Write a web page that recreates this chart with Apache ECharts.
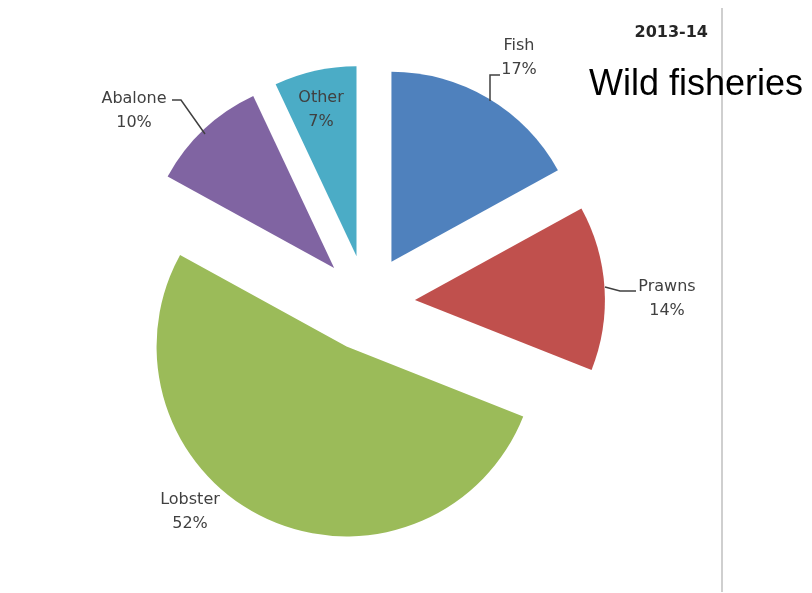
<!DOCTYPE html>
<html>
<head>
<meta charset="utf-8">
<title>Wild fisheries 2013-14</title>
<script src="https://cdn.jsdelivr.net/npm/echarts@6/dist/echarts.min.js"></script>
<style>
  html, body { margin: 0; padding: 0; background: #ffffff; }
  #chart { width: 812px; height: 593px; }
</style>
</head>
<body>
<div id="chart"></div>
<script>
// Share of wild-catch value by species group, 2013-14
const categories = ['Fish', 'Prawns', 'Lobster', 'Abalone', 'Other'];
const shares = [17, 14, 52, 10, 7];
const sliceColors = ['#4F81BD', '#C0504D', '#9BBB59', '#8064A2', '#4BACC6'];

// Where each slice's caption sits, and its leader path (null = no leader)
const labelSpots = [
  { x: 519, y: 58, line: [[490, 101], [490, 75], [500, 75]] },
  { x: 667, y: 299, line: [[605, 287], [620, 291], [636, 291]] },
  { x: 190, y: 512, line: null },
  { x: 134, y: 111, line: [[205, 134], [181, 100], [172, 100]] },
  { x: 321, y: 110, line: null }
];

const labelFont = { fontFamily: 'DejaVu Sans', fontSize: 16, lineHeight: 24, color: '#404040' };

const chart = echarts.init(document.getElementById('chart'), null, { renderer: 'canvas' });

const pieData = categories.map((name, i) => ({
  name: name,
  value: shares[i],
  selected: true,
  itemStyle: { color: sliceColors[i] }
}));

// Captions and leader lines, worded from the same arrays as the slices
const captionGraphics = [];
categories.forEach((name, i) => {
  const spot = labelSpots[i];
  if (spot.line) {
    captionGraphics.push({
      type: 'polyline',
      shape: { points: spot.line },
      style: { stroke: '#404040', lineWidth: 1.5, fill: null },
      silent: true,
      z: 10
    });
  }
  captionGraphics.push({
    type: 'text',
    x: spot.x,
    y: spot.y,
    style: {
      text: name + '\n' + shares[i] + '%',
      align: 'center',
      verticalAlign: 'middle',
      fontFamily: labelFont.fontFamily,
      fontSize: labelFont.fontSize,
      lineHeight: labelFont.lineHeight,
      fill: labelFont.color
    },
    silent: true,
    z: 10
  });
});

chart.setOption({
  animation: false,
  backgroundColor: '#ffffff',
  title: [
    {
      text: '2013-14',
      right: 99,
      top: 20,
      textStyle: { fontFamily: 'DejaVu Sans', fontWeight: 'bold', fontSize: 16, color: '#262626' }
    },
    {
      text: 'Wild fisheries',
      left: 584,
      top: 62,
      textStyle: { fontFamily: 'Liberation Sans', fontWeight: 'normal', fontSize: 36, color: '#000000' }
    }
  ],
  graphic: [
    {
      type: 'line',
      shape: { x1: 722, y1: 8, x2: 722, y2: 592 },
      style: { stroke: '#bfbfbf', lineWidth: 1.5 },
      silent: true
    }
  ].concat(captionGraphics),
  series: [
    {
      type: 'pie',
      center: [367, 303],
      radius: 190,
      startAngle: 90,
      clockwise: true,
      selectedMode: 'multiple',
      selectedOffset: 48,
      avoidLabelOverlap: false,
      data: pieData,
      itemStyle: { borderWidth: 0 },
      label: { show: false },
      labelLine: { show: false },
      emphasis: { disabled: true },
      select: { disabled: false, itemStyle: {} }
    }
  ]
});
</script>
</body>
</html>
